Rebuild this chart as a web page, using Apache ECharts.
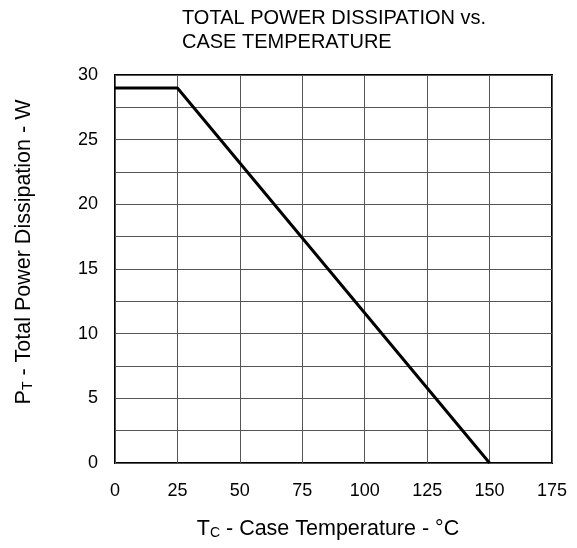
<!DOCTYPE html>
<html>
<head>
<meta charset="utf-8">
<script src="https://cdn.jsdelivr.net/npm/echarts@6/dist/echarts.min.js"></script>
<style>
  html, body { margin: 0; padding: 0; background: #fff; }
  #chart { width: 577px; height: 548px; }
</style>
</head>
<body>
<div id="chart"></div>
<script>
// Derating curve: power dissipation vs case temperature
const caseTemp = [0, 25, 150];      // °C
const powerW = [29, 29, 0];         // W
const xTicks = [0, 25, 50, 75, 100, 125, 150, 175];
const yTicks = [0, 5, 10, 15, 20, 25, 30];

const FONT = 'Liberation Sans, Arial, sans-serif';
const nameRich = {
  a: { fontFamily: FONT, fontSize: 21.5, color: '#000' },
  s: { fontFamily: FONT, fontSize: 14, color: '#000', verticalAlign: 'bottom', padding: [7, 0, 0, 0] }
};

const chart = echarts.init(document.getElementById('chart'), null, { renderer: 'canvas' });

chart.setOption({
  animation: false,
  backgroundColor: '#fff',
  title: {
    text: 'TOTAL POWER DISSIPATION vs.\nCASE TEMPERATURE',
    left: 177,
    top: 1,
    textStyle: { fontFamily: FONT, fontSize: 20, fontWeight: 'normal', color: '#000', lineHeight: 24 }
  },
  grid: {
    left: 115, top: 75, width: 437, height: 388,
    show: true, borderColor: '#000', borderWidth: 2, backgroundColor: 'transparent'
  },
  xAxis: {
    type: 'value',
    min: xTicks[0],
    max: xTicks[xTicks.length - 1],
    interval: 25,
    axisLine: { show: false },
    axisTick: { show: false },
    splitLine: { show: true, lineStyle: { color: '#555', width: 1 } },
    axisLabel: { fontFamily: FONT, fontSize: 18, color: '#000', margin: 19 }
  },
  yAxis: {
    type: 'value',
    min: 0,
    max: yTicks[yTicks.length - 1],
    interval: 2.5,
    axisLine: { show: false },
    axisTick: { show: false },
    splitLine: { show: true, lineStyle: { color: '#555', width: 1 } },
    axisLabel: {
      fontFamily: FONT, fontSize: 18, color: '#000', margin: 17,
      formatter: v => (yTicks.indexOf(v) >= 0 ? String(v) : '')
    }
  },
  graphic: [
    {
      type: 'text',
      x: 328, y: 529,
      style: {
        text: '{a|T}{s|C}{a| - Case Temperature - °C}',
        align: 'center', verticalAlign: 'middle',
        rich: nameRich
      }
    },
    {
      type: 'text',
      x: 24, y: 252,
      rotation: Math.PI / 2,
      style: {
        text: '{a|P}{s|T}{a| - Total Power Dissipation - W}',
        align: 'center', verticalAlign: 'middle',
        rich: nameRich
      }
    }
  ],
  series: [{
    type: 'line',
    data: caseTemp.map((t, i) => [t, powerW[i]]),
    showSymbol: false,
    lineStyle: { color: '#000', width: 3 },
    clip: false
  }]
});
</script>
</body>
</html>
